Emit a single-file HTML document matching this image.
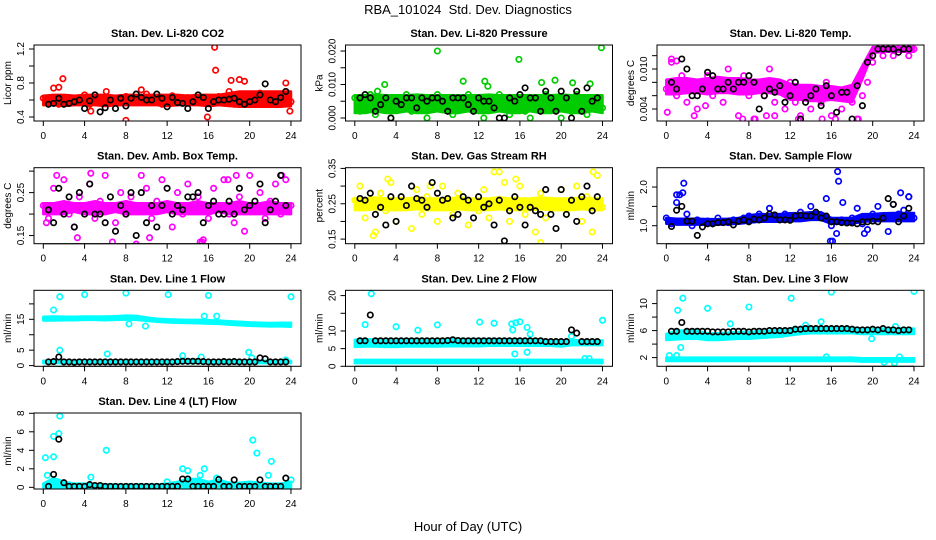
<!DOCTYPE html>
<html><head><meta charset="utf-8">
<style>
html,body{margin:0;padding:0;background:#fff;}
svg{display:block;font-family:"Liberation Sans",Arial,sans-serif;}
</style></head>
<body>
<svg id="chart" width="936" height="540" viewBox="0 0 936 540" xmlns="http://www.w3.org/2000/svg">
<rect width="936" height="540" fill="#fff"/>
<text x="468" y="14" text-anchor="middle" font-size="13">RBA_101024&#160; Std. Dev. Diagnostics</text>
<text x="468" y="531" text-anchor="middle" font-size="13">Hour of Day (UTC)</text>
</svg>
<script>
const blackHours=[0.5,1,1.5,2,2.5,3,3.5,4,4.5,5,5.5,6,6.5,7,7.5,8,8.5,9,9.5,10,10.5,11,11.5,12,12.5,13,13.5,14,14.5,15,15.5,16,16.5,17,17.5,18,18.5,19,19.5,20,20.5,21,21.5,22,22.5,23,23.5];
const xTicks=[0,4,8,12,16,20,24];

const co2Color=[0.62,0.58,0.74,0.55,0.6,0.63,0.57,0.61,0.66,0.55,0.6,0.58,0.63,0.56,0.61,0.59,0.64,0.57,0.62,0.6,0.67,0.58,0.62,0.55,0.6,0.65,0.57,0.61,0.63,0.58,0.62,0.59,0.6,0.56,0.64,0.58,0.7,0.55,0.63,0.62,0.66,0.57,0.68,0.61,0.55,0.65,0.6,0.7,0.58];
const co2Black=[0.55,0.56,0.62,0.55,0.56,0.58,0.6,0.5,0.59,0.66,0.46,0.51,0.6,0.5,0.62,0.53,0.62,0.67,0.63,0.6,0.6,0.67,0.62,0.52,0.63,0.57,0.56,0.5,0.58,0.66,0.63,0.5,0.58,0.6,0.6,0.61,0.62,0.58,0.55,0.58,0.6,0.66,0.79,0.6,0.58,0.63,0.7];
const co2BandLo=[0.54,0.54,0.53,0.54,0.54,0.54,0.53,0.54,0.54,0.54,0.54,0.54,0.53,0.54,0.54,0.54,0.53,0.54,0.53,0.52,0.52,0.52,0.52,0.52,0.53];
const co2BandHi=[0.65,0.66,0.66,0.65,0.66,0.66,0.66,0.65,0.66,0.66,0.66,0.66,0.66,0.66,0.65,0.66,0.66,0.66,0.68,0.7,0.7,0.7,0.7,0.7,0.7];
const co2OutX=[1.9,1.5,16.6,16.7,8,15.9,18.2,19,19.5,23.5,23.9,4.6,6.1,9.5];
const co2OutY=[0.85,0.75,1.22,0.95,0.36,0.4,0.83,0.84,0.82,0.8,0.47,0.47,0.7,0.72];

const presColor=[0.006,0.002,0.005,0.007,0.001,0.004,0.006,0.0,0.005,0.003,0.007,0.002,0.006,0.004,0.0,0.005,0.007,0.003,0.006,0.001,0.005,0.004,0.007,0.002,0.006,0.0,0.005,0.003,0.007,0.004,0.001,0.006,0.005,0.002,0.0,0.006,0.004,0.007,0.003,0.005,0.0,0.006,0.002,0.007,0.004,0.001,0.006,0.005,0.003];
const presBlack=[0.006,0.007,0.006,0.002,0.004,0.006,0.0,0.005,0.004,0.006,0.006,0.003,0.006,0.005,0.006,0.006,0.005,0.002,0.006,0.006,0.006,0.004,0.002,0.006,0.005,0.005,0.003,0.0,0.0,0.006,0.005,0.007,0.009,0.006,0.006,0.002,0.008,0.006,0.002,0.008,0.006,0.0,0.008,0.002,0.009,0.005,0.006];
const presBandLo=[0.0015,0.0015,0.002,0.0015,0.0015,0.002,0.0015,0.0015,0.002,0.0015,0.0015,0.002,0.0015,0.0015,0.002,0.0015,0.0015,0.002,0.0015,0.0015,0.002,0.0015,0.0015,0.002,0.0015];
const presBandHi=[0.0068,0.0068,0.007,0.0068,0.0068,0.0068,0.007,0.0068,0.0068,0.0068,0.0068,0.0068,0.0068,0.007,0.0068,0.0068,0.0068,0.0068,0.0068,0.0068,0.007,0.0068,0.0068,0.0068,0.0068];
const presOutX=[8,15.9,23.9,2.9,10.5,12.6,19.4,21.1,22.8,18.1,12.9,2.2];
const presOutY=[0.020,0.0175,0.021,0.010,0.011,0.011,0.0113,0.0105,0.0102,0.0106,0.0095,0.008];

const tempColor=[0.007,0.011,0.006,0.009,0.005,0.008,0.004,0.007,0.009,0.006,0.008,0.005,0.01,0.007,0.003,0.009,0.006,0.0025,0.008,0.006,0.01,0.005,0.007,0.004,0.008,0.005,0.003,0.007,0.004,0.006,0.005,0.008,0.003,0.006,0.004,0.007,0.005,0.0025,0.006,0.008,0.011,0.013,0.012,0.013,0.012,0.013,0.013,0.012,0.013];
const tempBlack=[0.008,0.007,0.0115,0.01,0.006,0.006,0.007,0.0095,0.009,0.007,0.007,0.008,0.007,0.008,0.008,0.009,0.008,0.004,0.006,0.007,0.0065,0.0075,0.005,0.006,0.008,0.0025,0.005,0.006,0.007,0.0045,0.0075,0.006,0.0035,0.0065,0.0065,0.0025,0.0075,0.0045,0.011,0.012,0.013,0.013,0.013,0.013,0.0125,0.013,0.013];
const tempBandLo=[0.0062,0.0062,0.0064,0.0064,0.0062,0.0064,0.0064,0.0062,0.0062,0.0064,0.0064,0.0062,0.0054,0.0054,0.0052,0.0052,0.0054,0.0052,0.005,0.0085,0.0124,0.0126,0.0126,0.0126,0.0126];
const tempBandHi=[0.0084,0.0086,0.0086,0.0084,0.0086,0.0088,0.0086,0.0086,0.0084,0.0084,0.0086,0.0084,0.0078,0.0076,0.0076,0.0074,0.0074,0.0072,0.0076,0.0105,0.0133,0.0133,0.0133,0.0133,0.0133];
const tempOutX=[0.1,0.5,2.7,3.8,7.4,8.6,9.7,10.5,12.8,15.1,16.4,18.6,1.0];
const tempOutY=[0.0035,0.0115,0.003,0.0045,0.0025,0.0025,0.003,0.003,0.0025,0.0025,0.0025,0.0025,0.0112];

const ambColor=[0.22,0.19,0.26,0.21,0.28,0.2,0.17,0.24,0.22,0.27,0.19,0.23,0.29,0.21,0.18,0.25,0.2,0.24,0.13,0.22,0.26,0.19,0.23,0.28,0.21,0.17,0.25,0.2,0.27,0.22,0.24,0.14,0.19,0.26,0.22,0.28,0.2,0.18,0.24,0.16,0.29,0.21,0.25,0.19,0.23,0.27,0.2,0.28,0.22];
const ambBlack=[0.21,0.18,0.26,0.2,0.24,0.17,0.25,0.2,0.27,0.2,0.2,0.18,0.24,0.16,0.22,0.2,0.25,0.15,0.25,0.18,0.22,0.17,0.22,0.26,0.2,0.22,0.21,0.24,0.24,0.25,0.18,0.22,0.23,0.2,0.2,0.23,0.2,0.26,0.21,0.22,0.23,0.27,0.18,0.21,0.23,0.29,0.22];
const ambBandLo=[0.2,0.2,0.2,0.205,0.2,0.2,0.2,0.205,0.2,0.2,0.2,0.2,0.205,0.2,0.2,0.2,0.2,0.205,0.2,0.2,0.2,0.2,0.2,0.2,0.2];
const ambBandHi=[0.225,0.225,0.23,0.225,0.225,0.23,0.225,0.225,0.23,0.225,0.225,0.225,0.23,0.225,0.225,0.23,0.225,0.225,0.225,0.23,0.225,0.225,0.23,0.225,0.225];
const ambOutX=[1.3,4.6,9.5,6.7,15.2,15.4,17.9,18.7,23.1,3.3,10.3,0.3];
const ambOutY=[0.29,0.295,0.29,0.135,0.135,0.135,0.28,0.29,0.29,0.145,0.145,0.18];

const rhColor=[0.26,0.3,0.21,0.25,0.17,0.28,0.23,0.31,0.2,0.26,0.24,0.18,0.29,0.22,0.27,0.25,0.2,0.3,0.24,0.22,0.28,0.26,0.19,0.25,0.23,0.29,0.21,0.34,0.24,0.31,0.2,0.26,0.3,0.22,0.25,0.17,0.28,0.21,0.26,0.24,0.29,0.22,0.25,0.3,0.2,0.27,0.17,0.33,0.24];
const rhBlack=[0.265,0.26,0.28,0.22,0.24,0.19,0.27,0.2,0.27,0.245,0.3,0.265,0.26,0.24,0.31,0.28,0.26,0.265,0.21,0.22,0.27,0.26,0.21,0.27,0.24,0.25,0.19,0.26,0.145,0.23,0.27,0.24,0.19,0.24,0.23,0.22,0.29,0.22,0.18,0.29,0.22,0.26,0.2,0.27,0.3,0.23,0.27];
const rhBandLo=[0.232,0.232,0.235,0.232,0.232,0.232,0.235,0.232,0.232,0.232,0.235,0.232,0.232,0.232,0.235,0.232,0.232,0.232,0.235,0.232,0.232,0.232,0.235,0.232,0.232];
const rhBandHi=[0.265,0.265,0.268,0.265,0.265,0.265,0.268,0.265,0.265,0.265,0.268,0.265,0.265,0.265,0.268,0.265,0.265,0.265,0.268,0.265,0.265,0.265,0.268,0.265,0.265];
const rhOutX=[1.8,14,18,23.1,15.6,3.2,7.3];
const rhOutY=[0.16,0.34,0.14,0.34,0.32,0.32,0.3];

const flowColor=[1.2,1.05,1.6,1.1,1.3,1.0,1.15,1.08,1.12,1.05,1.2,1.1,1.08,1.15,1.12,1.2,1.25,1.15,1.3,1.2,1.45,1.25,1.2,1.3,1.15,1.25,1.35,1.2,1.5,1.3,1.25,1.7,1.0,0.8,1.15,1.1,1.2,1.45,1.05,0.9,1.3,1.5,1.2,0.85,1.55,1.3,1.4,1.75,1.2];
const flowBlack=[0.98,1.4,1.5,1.12,1.12,0.75,0.97,1.05,1.05,1.08,1.08,1.1,1.02,1.12,1.15,1.1,1.17,1.15,1.2,1.3,1.28,1.15,1.15,1.14,1.25,1.27,1.25,1.25,1.35,1.2,1.25,1.1,1.1,1.08,1.07,1.07,1.05,1.1,1.1,1.12,1.1,1.2,1.7,1.55,1.1,1.25,1.45];
const flowBandLo=[1.05,1.03,1.03,1.03,1.03,1.03,1.04,1.05,1.08,1.1,1.1,1.1,1.12,1.12,1.15,1.15,1.05,1.05,1.05,1.1,1.12,1.12,1.12,1.12,1.12];
const flowBandHi=[1.2,1.18,1.18,1.18,1.17,1.17,1.18,1.2,1.27,1.3,1.3,1.3,1.32,1.33,1.35,1.35,1.2,1.2,1.2,1.3,1.3,1.32,1.33,1.33,1.33];
const flowOutX=[1.0,1.3,1.6,1.7,16.6,16.7,15.9,16.1,17.1,22.7,23.5,19.2];
const flowOutY=[1.8,1.8,1.85,2.1,2.4,2.15,0.6,0.6,1.6,1.85,1.75,0.8];

const line1Black=[1.2,1.3,2.8,1.2,1.2,1.1,1.2,1.2,1.2,1.2,1.2,1.2,1.2,1.2,1.2,1.2,1.2,1.2,1.2,1.2,1.2,1.2,1.2,1.2,1.2,1.3,1.4,1.4,1.4,1.4,1.3,1.2,1.2,1.2,1.3,1.2,1.3,1.2,1.2,1.2,1.2,2.5,2.2,1.2,1.2,1.2,1.2];
const line1BandALo=[14.6,14.6,14.7,14.7,14.8,14.8,14.7,14.8,14.9,14.8,14.5,14.2,14.0,13.9,13.8,13.7,13.6,13.5,13.3,13.1,12.9,12.8,12.7,12.7,12.6];
const line1BandAHi=[15.8,15.9,15.8,15.8,15.9,15.9,15.9,16.0,16.2,16.1,15.6,15.2,15.0,14.9,14.8,14.8,14.7,14.6,14.4,14.2,14.0,13.9,13.8,13.9,13.9];
const line1BandBLo=[0.8,0.8,0.8,0.8,0.8,0.8,0.8,0.8,0.8,0.8,0.8,0.8,0.8,0.8,0.8,0.8,0.8,0.8,0.8,0.8,0.8,0.8,0.8,0.8,0.8];
const line1BandBHi=[1.6,1.6,1.6,1.6,1.6,1.6,1.6,1.6,1.6,1.6,1.6,1.6,1.6,1.6,1.6,1.6,1.6,1.6,1.6,1.6,1.6,1.6,1.6,1.6,1.6];
const line1OutX=[1.0,1.6,1.6,4,8,12.1,16,24,6.2,13.5,15.3,19.9,8.3,9.9,15.6,16.8,23.5,20.2];
const line1OutY=[18,22.3,5,23,23.5,23,22.7,22.3,3.8,3.2,2.8,4.3,13.5,12.8,16,16,1.8,2.5];

const line2Black=[7.2,7.2,14.5,7.2,7.2,7.2,7.2,7.2,7.2,7.2,7.2,7.2,7.2,7.2,7.2,7.2,7.2,7.3,7.5,7.3,7.2,7.2,7.2,7.2,7.2,7.2,7.2,7.2,7.2,7.2,7.2,7.2,7.2,7.2,7.2,7.2,7.0,7.0,7.0,7.0,7.0,10.3,9.4,7.0,7.0,7.0,7.0];
const line2BandALo=[5.5,5.6,5.6,5.5,5.5,5.6,5.6,5.6,5.6,5.7,5.7,5.7,5.7,5.8,5.8,5.8,5.8,5.8,5.8,5.8,5.6,6.0,6.0,6.0,6.0];
const line2BandAHi=[7.5,7.6,7.6,7.5,7.5,7.6,7.6,7.6,7.6,7.7,7.7,7.7,7.7,7.7,7.7,7.6,7.6,7.6,7.5,7.4,7.3,7.5,7.3,7.3,7.3];
const line2BandBLo=[0.9,0.9,0.9,0.9,0.9,0.9,0.9,0.9,0.9,0.9,0.9,0.9,0.9,0.9,0.9,0.9,0.9,0.9,0.9,0.9,0.9,0.9,0.9,0.9,0.9];
const line2BandBHi=[1.8,1.8,1.8,1.8,1.8,1.8,1.8,1.8,1.8,1.8,1.8,1.8,1.8,1.8,1.8,1.8,1.8,1.8,1.8,1.8,1.8,1.8,1.8,1.8,1.8];
const line2OutX=[1.6,1.0,4,6.1,8.0,12.1,13.5,15.2,15.6,16,16.7,15.3,15.5,16.7,17,21,24,22.3,22.7];
const line2OutY=[20.5,11.8,11.2,10.2,11.7,12.5,12.2,12,12.3,12.6,11,10.3,3.5,4,9.1,8.5,13,2.2,2.2];

const line3Black=[5.9,5.9,7.2,5.9,5.9,5.9,5.9,5.9,5.8,5.8,5.8,5.8,5.9,5.9,5.9,5.8,5.9,5.9,5.9,6.0,6.0,6.0,6.0,6.0,6.2,6.2,6.3,6.3,6.3,6.3,6.3,6.3,6.3,6.3,6.3,6.2,6.1,6.1,6.1,6.2,6.1,6.3,6.1,6.1,6.0,6.1,6.1];
const line3BandALo=[4.6,4.7,4.8,4.8,4.6,4.6,4.7,4.8,4.8,4.9,5.0,5.1,5.3,5.5,5.6,5.6,5.6,5.6,5.6,5.5,5.5,5.5,5.5,5.5,5.5];
const line3BandAHi=[5.5,6.0,6.0,6.0,5.6,5.6,5.7,5.8,5.8,5.9,6.0,6.1,6.3,6.4,6.5,6.5,6.5,6.5,6.4,6.3,6.3,6.3,6.3,6.3,6.3];
const line3BandBLo=[1.5,1.5,1.5,1.5,1.5,1.5,1.5,1.5,1.5,1.5,1.5,1.5,1.5,1.5,1.5,1.5,1.5,1.5,1.5,1.4,1.4,1.4,1.4,1.4,1.4];
const line3BandBHi=[2.0,2.0,2.0,2.0,2.0,2.0,2.0,2.0,2.0,2.0,2.0,2.0,2.0,2.0,2.0,2.0,2.0,2.0,2.0,1.9,1.9,1.9,1.9,1.9,1.9];
const line3OutX=[1.1,1.6,4,8.0,12.1,16,24,6.2,13.5,15,19.9,1.4,0.3,1.0,22.2,22.6,21.1,22.1,15.5];
const line3OutY=[9,10.8,9.3,9.5,10.8,11.7,11.8,7,6.8,7.3,4.8,3.5,2.3,2.3,6.6,2.1,1.3,1.2,2.1];

const line4Black=[0.1,1.4,5.2,0.5,0.1,0.1,0.1,0.1,0.3,0.2,0.2,0.1,0.1,0.1,0.1,0.1,0.1,0.1,0.1,0.1,0.1,0.1,0.1,0.1,0.1,0.1,0.9,0.9,0.1,0.1,0.1,0.1,0.1,0.85,0.1,0.1,0.8,0.1,0.1,0.1,0.1,0.8,0.1,0.1,0.1,0.1,1.0];
const line4BandLo=[0,0,0,0,0,0,0,0,0,0,0,0,0,0,0,0,0,0,0,0,0,0,0,0,0];
const line4BandHi=[0.4,1.0,0.6,0.4,0.4,0.35,0.35,0.3,0.3,0.3,0.3,0.3,0.4,0.6,0.9,0.9,0.6,0.8,0.5,0.5,0.6,0.5,0.4,0.4,0.6];
const line4OutX=[0.2,1.0,1.0,1.5,1.6,6.1,4.6,13.5,14,15.6,15.2,20.3,20.7,22.1,21.8,12,0.4,16.8,24];
const line4OutY=[3.2,3.3,5.5,5.8,7.7,4,1.1,2,1.8,2,1.3,5.1,3.7,2.8,1.3,0.6,1.3,1.0,0.8];

const NS="http://www.w3.org/2000/svg";
const svg=document.getElementById('chart');
function mk(tag,attrs,parent){const e=document.createElementNS(NS,tag);for(const k in attrs)e.setAttribute(k,attrs[k]);(parent||svg).appendChild(e);return e;}

const colX=[34,345.5,657],rowY=[45,167.7,290.3,413],BW=267,BH=76;
const panels=[
 {key:'co2',title:'Stan. Dev. Li-820 CO2',ylab:'Licor ppm',col:'#ff0000',r:0,c:0,ymin:0.353,ymax:1.247,ticks:[0.4,0.6,0.8,1.0,1.2],labs:[0.4,0.8,1.2],fmt:1,color:co2Color,black:co2Black,bands:[[co2BandLo,co2BandHi]],ox:co2OutX,oy:co2OutY},
 {key:'pressure',title:'Stan. Dev. Li-820 Pressure',ylab:'kPa',col:'#00cc00',r:0,c:1,ymin:-0.0009,ymax:0.0218,ticks:[0,0.005,0.01,0.015,0.02],labs:[0,0.01,0.02],fmt:3,color:presColor,black:presBlack,bands:[[presBandLo,presBandHi]],ox:presOutX,oy:presOutY},
 {key:'temp',title:'Stan. Dev. Li-820 Temp.',ylab:'degrees C',col:'#ff00ff',r:0,c:2,ymin:0.0022,ymax:0.0136,ticks:[0.004,0.006,0.008,0.01,0.012],labs:[0.004,0.01],fmt:3,color:tempColor,black:tempBlack,bands:[[tempBandLo,tempBandHi]],ox:tempOutX,oy:tempOutY},
 {key:'ambtemp',title:'Stan. Dev. Amb. Box Temp.',ylab:'degrees C',col:'#ff00ff',r:1,c:0,ymin:0.131,ymax:0.308,ticks:[0.15,0.2,0.25,0.3],labs:[0.15,0.25],fmt:2,color:ambColor,black:ambBlack,bands:[[ambBandLo,ambBandHi]],ox:ambOutX,oy:ambOutY},
 {key:'rh',title:'Stan. Dev. Gas Stream RH',ylab:'percent',col:'#ffff00',r:1,c:1,ymin:0.137,ymax:0.352,ticks:[0.15,0.2,0.25,0.3,0.35],labs:[0.15,0.25,0.35],fmt:2,color:rhColor,black:rhBlack,bands:[[rhBandLo,rhBandHi]],ox:rhOutX,oy:rhOutY},
 {key:'sampleflow',title:'Stan. Dev. Sample Flow',ylab:'ml/min',col:'#0000ff',r:1,c:2,ymin:0.535,ymax:2.5,ticks:[1.0,1.5,2.0],labs:[1.0,2.0],fmt:1,color:flowColor,black:flowBlack,bands:[[flowBandLo,flowBandHi]],ox:flowOutX,oy:flowOutY},
 {key:'line1',title:'Stan. Dev. Line 1 Flow',ylab:'ml/min',col:'#00ffff',r:2,c:0,ymin:-0.23,ymax:24.4,ticks:[0,5,10,15,20],labs:[0,5,15],fmt:0,color:[],black:line1Black,bands:[[line1BandALo,line1BandAHi],[line1BandBLo,line1BandBHi]],ox:line1OutX,oy:line1OutY},
 {key:'line2',title:'Stan. Dev. Line 2 Flow',ylab:'ml/min',col:'#00ffff',r:2,c:1,ymin:0,ymax:21.5,ticks:[0,5,10,15,20],labs:[0,5,10,20],fmt:0,color:[],black:line2Black,bands:[[line2BandALo,line2BandAHi],[line2BandBLo,line2BandBHi]],ox:line2OutX,oy:line2OutY},
 {key:'line3',title:'Stan. Dev. Line 3 Flow',ylab:'ml/min',col:'#00ffff',r:2,c:2,ymin:0.71,ymax:11.97,ticks:[2,4,6,8,10],labs:[2,6,10],fmt:0,color:[],black:line3Black,bands:[[line3BandALo,line3BandAHi],[line3BandBLo,line3BandBHi]],ox:line3OutX,oy:line3OutY},
 {key:'line4',title:'Stan. Dev. Line 4 (LT) Flow',ylab:'ml/min',col:'#00ffff',r:3,c:0,ymin:-0.18,ymax:8.03,ticks:[0,2,4,6,8],labs:[0,2,4,6,8],fmt:0,color:[],black:line4Black,bands:[[line4BandLo,line4BandHi]],ox:line4OutX,oy:line4OutY}
];

panels.forEach(p=>{
 const x0=colX[p.c],y0=rowY[p.r];
 const xs=h=>x0+9.3+h*10.32;
 const ys=v=>y0+BH-(v-p.ymin)/(p.ymax-p.ymin)*BH;
 const g=mk('g',{});
 
 
 const t=mk('text',{x:x0+BW/2,y:y0-8,'text-anchor':'middle','font-size':'11','font-weight':'bold'},g);
 
 
 t.textContent=p.title;
 const cp=mk('clipPath',{id:'cp'+p.key},g);
 mk('rect',{x:x0,y:y0,width:BW,height:BH},cp);
 const plot=mk('g',{'clip-path':'url(#cp'+p.key+')'},g);
 
 
 p.bands.forEach(b=>{
  const lo=b[0],hi=b[1];let pts=[];
  for(let i=0;i<hi.length;i++)pts.push(xs(i).toFixed(1)+','+ys(hi[i]).toFixed(1));
  for(let i=lo.length-1;i>=0;i--)pts.push(xs(i).toFixed(1)+','+ys(lo[i]).toFixed(1));
  const pg=mk('polygon',{points:pts.join(' '),fill:p.col,stroke:p.col,'stroke-width':'2.5','stroke-linejoin':'round'},plot);
  
  
 });
 const dot=(h,v,c,name)=>{
  const e=mk('circle',{cx:xs(h).toFixed(1),cy:ys(v).toFixed(1),r:'2.7',fill:'none',stroke:c,'stroke-width':'1.7'},plot);
  
  
 };
 p.color.forEach((v,i)=>dot(i*0.5,v,p.col,'point-'+p.key));
 p.ox.forEach((h,i)=>dot(h,p.oy[i],p.col,'outlier-'+p.key));
 p.black.forEach((v,i)=>dot(blackHours[i],v,'#000','hourly-point-'+p.key));
 const bx=mk('rect',{x:x0,y:y0,width:BW,height:BH,fill:'none',stroke:'#000','stroke-width':'1'},g);
 
 
 const xa=mk('g',{},g);
 
 
 mk('line',{x1:xs(0),x2:xs(24),y1:y0+BH,y2:y0+BH,stroke:'#000'},xa);
 xTicks.forEach(h=>{
  mk('line',{x1:xs(h),x2:xs(h),y1:y0+BH,y2:y0+BH+5,stroke:'#000'},xa);
  const tl=mk('text',{x:xs(h),y:y0+BH+18,'text-anchor':'middle','font-size':'10'},xa);
  
  
  tl.textContent=h;
 });
 const ya=mk('g',{},g);
 
 
 const tv=p.ticks.filter(v=>v>=p.ymin&&v<=p.ymax);
 mk('line',{x1:x0,x2:x0,y1:ys(tv[0]),y2:ys(tv[tv.length-1]),stroke:'#000'},ya);
 tv.forEach(v=>mk('line',{x1:x0-5,x2:x0,y1:ys(v),y2:ys(v),stroke:'#000'},ya));
 p.labs.forEach(v=>{
  const yy=ys(v);
  const tl=mk('text',{x:x0-10,y:yy,'text-anchor':'middle','font-size':'10',transform:'rotate(-90 '+(x0-10)+' '+yy+')'},ya);
  
  
  tl.textContent=v.toFixed(p.fmt);
 });
 const yl=mk('text',{x:x0-23,y:y0+BH/2,'text-anchor':'middle','font-size':'10',transform:'rotate(-90 '+(x0-23)+' '+(y0+BH/2)+')'},g);
 
 
 yl.textContent=p.ylab;
});
</script>
</body></html>
